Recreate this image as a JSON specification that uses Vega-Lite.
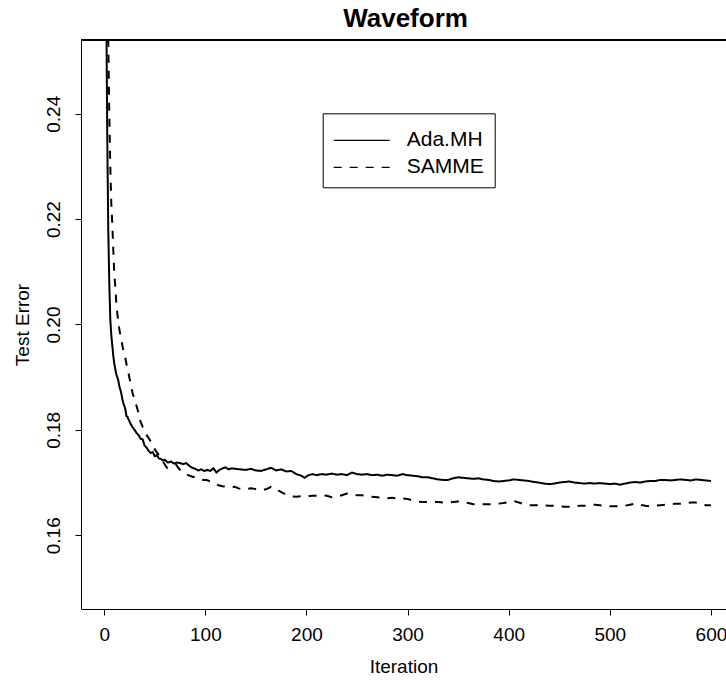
{
"$schema": "https://vega.github.io/schema/vega-lite/v6.json",
"width": 645, "height": 569,
"autosize": {"type": "none"},
"padding": {"left": 81, "top": 40, "right": 0, "bottom": 72},
"background": "white",
"title": {"text": "Waveform", "font": "Liberation Sans", "fontSize": 26, "fontWeight": "bold", "color": "black", "anchor": "middle", "offset": 8, "dx": 2},
"config": {"view": {"stroke": null}},
"data": {"values": [
{"it":1,"err":0.300,"method":"Ada.MH"},{"it":2,"err":0.262,"method":"Ada.MH"},{"it":3,"err":0.236,"method":"Ada.MH"},{"it":4,"err":0.218,"method":"Ada.MH"},{"it":5,"err":0.208,"method":"Ada.MH"},{"it":6,"err":0.201,"method":"Ada.MH"},{"it":7,"err":0.198,"method":"Ada.MH"},{"it":8,"err":0.196,"method":"Ada.MH"},{"it":9,"err":0.194,"method":"Ada.MH"},{"it":10,"err":0.1925,"method":"Ada.MH"},{"it":11,"err":0.1915,"method":"Ada.MH"},{"it":12,"err":0.1905,"method":"Ada.MH"},{"it":13,"err":0.19,"method":"Ada.MH"},{"it":14,"err":0.1893,"method":"Ada.MH"},{"it":15,"err":0.1882,"method":"Ada.MH"},{"it":16,"err":0.1876,"method":"Ada.MH"},{"it":17,"err":0.1868,"method":"Ada.MH"},{"it":18,"err":0.1858,"method":"Ada.MH"},{"it":19,"err":0.185,"method":"Ada.MH"},{"it":20,"err":0.1845,"method":"Ada.MH"},{"it":21,"err":0.1838,"method":"Ada.MH"},{"it":22,"err":0.1826,"method":"Ada.MH"},{"it":23,"err":0.1825,"method":"Ada.MH"},{"it":24,"err":0.182,"method":"Ada.MH"},{"it":26,"err":0.1812,"method":"Ada.MH"},{"it":28,"err":0.1805,"method":"Ada.MH"},{"it":30,"err":0.18,"method":"Ada.MH"},{"it":32,"err":0.1794,"method":"Ada.MH"},{"it":34,"err":0.179,"method":"Ada.MH"},{"it":36,"err":0.1783,"method":"Ada.MH"},{"it":38,"err":0.1782,"method":"Ada.MH"},{"it":40,"err":0.177,"method":"Ada.MH"},{"it":42,"err":0.1766,"method":"Ada.MH"},{"it":44,"err":0.176,"method":"Ada.MH"},{"it":46,"err":0.1756,"method":"Ada.MH"},{"it":48,"err":0.1758,"method":"Ada.MH"},{"it":50,"err":0.175,"method":"Ada.MH"},{"it":52,"err":0.1752,"method":"Ada.MH"},{"it":54,"err":0.1746,"method":"Ada.MH"},{"it":56,"err":0.1745,"method":"Ada.MH"},{"it":58,"err":0.1742,"method":"Ada.MH"},{"it":60,"err":0.1743,"method":"Ada.MH"},{"it":63,"err":0.1738,"method":"Ada.MH"},{"it":66,"err":0.174,"method":"Ada.MH"},{"it":69,"err":0.1736,"method":"Ada.MH"},{"it":72,"err":0.1738,"method":"Ada.MH"},{"it":75,"err":0.1737,"method":"Ada.MH"},{"it":78,"err":0.1735,"method":"Ada.MH"},{"it":81,"err":0.1737,"method":"Ada.MH"},{"it":84,"err":0.1732,"method":"Ada.MH"},{"it":87,"err":0.1728,"method":"Ada.MH"},{"it":90,"err":0.1726,"method":"Ada.MH"},{"it":93,"err":0.1723,"method":"Ada.MH"},{"it":96,"err":0.1725,"method":"Ada.MH"},{"it":99,"err":0.1722,"method":"Ada.MH"},{"it":102,"err":0.1724,"method":"Ada.MH"},{"it":105,"err":0.1722,"method":"Ada.MH"},{"it":108,"err":0.1727,"method":"Ada.MH"},{"it":111,"err":0.1719,"method":"Ada.MH"},{"it":114,"err":0.1724,"method":"Ada.MH"},{"it":117,"err":0.1727,"method":"Ada.MH"},{"it":120,"err":0.1729,"method":"Ada.MH"},{"it":123,"err":0.1725,"method":"Ada.MH"},{"it":126,"err":0.1727,"method":"Ada.MH"},{"it":130,"err":0.1726,"method":"Ada.MH"},{"it":135,"err":0.1725,"method":"Ada.MH"},{"it":140,"err":0.1724,"method":"Ada.MH"},{"it":145,"err":0.1726,"method":"Ada.MH"},{"it":150,"err":0.1723,"method":"Ada.MH"},{"it":155,"err":0.1722,"method":"Ada.MH"},{"it":160,"err":0.1725,"method":"Ada.MH"},{"it":165,"err":0.1728,"method":"Ada.MH"},{"it":170,"err":0.1723,"method":"Ada.MH"},{"it":175,"err":0.1725,"method":"Ada.MH"},{"it":180,"err":0.1721,"method":"Ada.MH"},{"it":185,"err":0.1722,"method":"Ada.MH"},{"it":190,"err":0.1716,"method":"Ada.MH"},{"it":195,"err":0.1713,"method":"Ada.MH"},{"it":198,"err":0.1709,"method":"Ada.MH"},{"it":202,"err":0.1714,"method":"Ada.MH"},{"it":206,"err":0.1716,"method":"Ada.MH"},{"it":210,"err":0.1714,"method":"Ada.MH"},{"it":215,"err":0.1716,"method":"Ada.MH"},{"it":220,"err":0.1715,"method":"Ada.MH"},{"it":225,"err":0.1717,"method":"Ada.MH"},{"it":230,"err":0.1715,"method":"Ada.MH"},{"it":235,"err":0.1716,"method":"Ada.MH"},{"it":240,"err":0.1714,"method":"Ada.MH"},{"it":245,"err":0.1719,"method":"Ada.MH"},{"it":250,"err":0.1716,"method":"Ada.MH"},{"it":255,"err":0.1715,"method":"Ada.MH"},{"it":260,"err":0.1716,"method":"Ada.MH"},{"it":265,"err":0.1714,"method":"Ada.MH"},{"it":270,"err":0.1715,"method":"Ada.MH"},{"it":275,"err":0.1713,"method":"Ada.MH"},{"it":280,"err":0.1715,"method":"Ada.MH"},{"it":285,"err":0.1714,"method":"Ada.MH"},{"it":290,"err":0.1713,"method":"Ada.MH"},{"it":295,"err":0.1716,"method":"Ada.MH"},{"it":300,"err":0.1714,"method":"Ada.MH"},{"it":305,"err":0.1713,"method":"Ada.MH"},{"it":310,"err":0.1712,"method":"Ada.MH"},{"it":315,"err":0.171,"method":"Ada.MH"},{"it":320,"err":0.171,"method":"Ada.MH"},{"it":325,"err":0.1708,"method":"Ada.MH"},{"it":330,"err":0.1706,"method":"Ada.MH"},{"it":335,"err":0.1705,"method":"Ada.MH"},{"it":340,"err":0.1705,"method":"Ada.MH"},{"it":345,"err":0.1708,"method":"Ada.MH"},{"it":350,"err":0.171,"method":"Ada.MH"},{"it":355,"err":0.1709,"method":"Ada.MH"},{"it":360,"err":0.1708,"method":"Ada.MH"},{"it":365,"err":0.1707,"method":"Ada.MH"},{"it":370,"err":0.1708,"method":"Ada.MH"},{"it":375,"err":0.1706,"method":"Ada.MH"},{"it":380,"err":0.1705,"method":"Ada.MH"},{"it":385,"err":0.1703,"method":"Ada.MH"},{"it":390,"err":0.1702,"method":"Ada.MH"},{"it":395,"err":0.1703,"method":"Ada.MH"},{"it":400,"err":0.1704,"method":"Ada.MH"},{"it":405,"err":0.1706,"method":"Ada.MH"},{"it":410,"err":0.1705,"method":"Ada.MH"},{"it":415,"err":0.1704,"method":"Ada.MH"},{"it":420,"err":0.1703,"method":"Ada.MH"},{"it":425,"err":0.1701,"method":"Ada.MH"},{"it":430,"err":0.17,"method":"Ada.MH"},{"it":435,"err":0.1698,"method":"Ada.MH"},{"it":440,"err":0.1697,"method":"Ada.MH"},{"it":445,"err":0.1698,"method":"Ada.MH"},{"it":450,"err":0.17,"method":"Ada.MH"},{"it":455,"err":0.1701,"method":"Ada.MH"},{"it":460,"err":0.1702,"method":"Ada.MH"},{"it":465,"err":0.17,"method":"Ada.MH"},{"it":470,"err":0.1699,"method":"Ada.MH"},{"it":475,"err":0.1698,"method":"Ada.MH"},{"it":480,"err":0.1699,"method":"Ada.MH"},{"it":485,"err":0.1698,"method":"Ada.MH"},{"it":490,"err":0.1699,"method":"Ada.MH"},{"it":495,"err":0.1698,"method":"Ada.MH"},{"it":500,"err":0.1697,"method":"Ada.MH"},{"it":505,"err":0.1698,"method":"Ada.MH"},{"it":510,"err":0.1696,"method":"Ada.MH"},{"it":515,"err":0.1698,"method":"Ada.MH"},{"it":520,"err":0.17,"method":"Ada.MH"},{"it":525,"err":0.1701,"method":"Ada.MH"},{"it":530,"err":0.17,"method":"Ada.MH"},{"it":535,"err":0.1702,"method":"Ada.MH"},{"it":540,"err":0.1703,"method":"Ada.MH"},{"it":545,"err":0.1703,"method":"Ada.MH"},{"it":550,"err":0.1705,"method":"Ada.MH"},{"it":555,"err":0.1705,"method":"Ada.MH"},{"it":560,"err":0.1704,"method":"Ada.MH"},{"it":565,"err":0.1705,"method":"Ada.MH"},{"it":570,"err":0.1706,"method":"Ada.MH"},{"it":575,"err":0.1705,"method":"Ada.MH"},{"it":580,"err":0.1704,"method":"Ada.MH"},{"it":585,"err":0.1706,"method":"Ada.MH"},{"it":590,"err":0.1705,"method":"Ada.MH"},{"it":595,"err":0.1704,"method":"Ada.MH"},{"it":600,"err":0.1703,"method":"Ada.MH"},
{"it":1,"err":0.40,"method":"SAMME"},{"it":2,"err":0.33,"method":"SAMME"},{"it":3,"err":0.285,"method":"SAMME"},{"it":4,"err":0.254,"method":"SAMME"},{"it":5,"err":0.24,"method":"SAMME"},{"it":6,"err":0.23,"method":"SAMME"},{"it":7,"err":0.223,"method":"SAMME"},{"it":8,"err":0.219,"method":"SAMME"},{"it":9,"err":0.214,"method":"SAMME"},{"it":10,"err":0.2095,"method":"SAMME"},{"it":11,"err":0.207,"method":"SAMME"},{"it":12,"err":0.204,"method":"SAMME"},{"it":13,"err":0.202,"method":"SAMME"},{"it":14,"err":0.2005,"method":"SAMME"},{"it":15,"err":0.199,"method":"SAMME"},{"it":16,"err":0.198,"method":"SAMME"},{"it":17,"err":0.197,"method":"SAMME"},{"it":18,"err":0.196,"method":"SAMME"},{"it":19,"err":0.195,"method":"SAMME"},{"it":20,"err":0.1945,"method":"SAMME"},{"it":21,"err":0.1935,"method":"SAMME"},{"it":22,"err":0.1925,"method":"SAMME"},{"it":23,"err":0.1915,"method":"SAMME"},{"it":24,"err":0.1908,"method":"SAMME"},{"it":25,"err":0.1898,"method":"SAMME"},{"it":26,"err":0.189,"method":"SAMME"},{"it":27,"err":0.188,"method":"SAMME"},{"it":28,"err":0.187,"method":"SAMME"},{"it":30,"err":0.1858,"method":"SAMME"},{"it":32,"err":0.1845,"method":"SAMME"},{"it":34,"err":0.1832,"method":"SAMME"},{"it":36,"err":0.1815,"method":"SAMME"},{"it":38,"err":0.1806,"method":"SAMME"},{"it":40,"err":0.1798,"method":"SAMME"},{"it":42,"err":0.179,"method":"SAMME"},{"it":44,"err":0.1784,"method":"SAMME"},{"it":47,"err":0.1775,"method":"SAMME"},{"it":50,"err":0.1763,"method":"SAMME"},{"it":53,"err":0.1755,"method":"SAMME"},{"it":56,"err":0.1746,"method":"SAMME"},{"it":59,"err":0.1737,"method":"SAMME"},{"it":62,"err":0.1728,"method":"SAMME"},{"it":65,"err":0.173,"method":"SAMME"},{"it":68,"err":0.1733,"method":"SAMME"},{"it":71,"err":0.1734,"method":"SAMME"},{"it":74,"err":0.1726,"method":"SAMME"},{"it":77,"err":0.1721,"method":"SAMME"},{"it":80,"err":0.1716,"method":"SAMME"},{"it":83,"err":0.1714,"method":"SAMME"},{"it":86,"err":0.1712,"method":"SAMME"},{"it":89,"err":0.171,"method":"SAMME"},{"it":92,"err":0.1707,"method":"SAMME"},{"it":95,"err":0.1707,"method":"SAMME"},{"it":98,"err":0.1705,"method":"SAMME"},{"it":101,"err":0.1705,"method":"SAMME"},{"it":105,"err":0.1702,"method":"SAMME"},{"it":109,"err":0.1698,"method":"SAMME"},{"it":113,"err":0.1695,"method":"SAMME"},{"it":117,"err":0.1693,"method":"SAMME"},{"it":121,"err":0.1692,"method":"SAMME"},{"it":125,"err":0.1691,"method":"SAMME"},{"it":129,"err":0.1692,"method":"SAMME"},{"it":133,"err":0.1689,"method":"SAMME"},{"it":137,"err":0.1687,"method":"SAMME"},{"it":141,"err":0.1688,"method":"SAMME"},{"it":145,"err":0.1689,"method":"SAMME"},{"it":149,"err":0.1688,"method":"SAMME"},{"it":153,"err":0.1686,"method":"SAMME"},{"it":157,"err":0.1686,"method":"SAMME"},{"it":161,"err":0.1688,"method":"SAMME"},{"it":165,"err":0.1692,"method":"SAMME"},{"it":169,"err":0.1691,"method":"SAMME"},{"it":173,"err":0.1684,"method":"SAMME"},{"it":177,"err":0.168,"method":"SAMME"},{"it":181,"err":0.1676,"method":"SAMME"},{"it":185,"err":0.1674,"method":"SAMME"},{"it":190,"err":0.1673,"method":"SAMME"},{"it":195,"err":0.1674,"method":"SAMME"},{"it":200,"err":0.1673,"method":"SAMME"},{"it":205,"err":0.1675,"method":"SAMME"},{"it":210,"err":0.1675,"method":"SAMME"},{"it":215,"err":0.1676,"method":"SAMME"},{"it":220,"err":0.1675,"method":"SAMME"},{"it":225,"err":0.1672,"method":"SAMME"},{"it":230,"err":0.1673,"method":"SAMME"},{"it":235,"err":0.1676,"method":"SAMME"},{"it":240,"err":0.1679,"method":"SAMME"},{"it":245,"err":0.1677,"method":"SAMME"},{"it":250,"err":0.1676,"method":"SAMME"},{"it":255,"err":0.1676,"method":"SAMME"},{"it":260,"err":0.1674,"method":"SAMME"},{"it":265,"err":0.1673,"method":"SAMME"},{"it":270,"err":0.1672,"method":"SAMME"},{"it":275,"err":0.1671,"method":"SAMME"},{"it":280,"err":0.167,"method":"SAMME"},{"it":285,"err":0.1671,"method":"SAMME"},{"it":290,"err":0.167,"method":"SAMME"},{"it":295,"err":0.167,"method":"SAMME"},{"it":300,"err":0.1669,"method":"SAMME"},{"it":305,"err":0.1666,"method":"SAMME"},{"it":310,"err":0.1664,"method":"SAMME"},{"it":315,"err":0.1663,"method":"SAMME"},{"it":320,"err":0.1663,"method":"SAMME"},{"it":325,"err":0.1663,"method":"SAMME"},{"it":330,"err":0.1663,"method":"SAMME"},{"it":335,"err":0.1662,"method":"SAMME"},{"it":340,"err":0.1662,"method":"SAMME"},{"it":345,"err":0.1663,"method":"SAMME"},{"it":350,"err":0.1664,"method":"SAMME"},{"it":355,"err":0.1663,"method":"SAMME"},{"it":360,"err":0.1661,"method":"SAMME"},{"it":365,"err":0.1659,"method":"SAMME"},{"it":370,"err":0.1659,"method":"SAMME"},{"it":375,"err":0.1659,"method":"SAMME"},{"it":380,"err":0.1659,"method":"SAMME"},{"it":385,"err":0.1659,"method":"SAMME"},{"it":390,"err":0.166,"method":"SAMME"},{"it":395,"err":0.1661,"method":"SAMME"},{"it":400,"err":0.1663,"method":"SAMME"},{"it":405,"err":0.1665,"method":"SAMME"},{"it":410,"err":0.1662,"method":"SAMME"},{"it":415,"err":0.1659,"method":"SAMME"},{"it":420,"err":0.1657,"method":"SAMME"},{"it":425,"err":0.1657,"method":"SAMME"},{"it":430,"err":0.1657,"method":"SAMME"},{"it":435,"err":0.1657,"method":"SAMME"},{"it":440,"err":0.1656,"method":"SAMME"},{"it":445,"err":0.1656,"method":"SAMME"},{"it":450,"err":0.1655,"method":"SAMME"},{"it":455,"err":0.1654,"method":"SAMME"},{"it":460,"err":0.1654,"method":"SAMME"},{"it":465,"err":0.1655,"method":"SAMME"},{"it":470,"err":0.1656,"method":"SAMME"},{"it":475,"err":0.1656,"method":"SAMME"},{"it":480,"err":0.1657,"method":"SAMME"},{"it":485,"err":0.1658,"method":"SAMME"},{"it":490,"err":0.1657,"method":"SAMME"},{"it":495,"err":0.1656,"method":"SAMME"},{"it":500,"err":0.1655,"method":"SAMME"},{"it":505,"err":0.1655,"method":"SAMME"},{"it":510,"err":0.1655,"method":"SAMME"},{"it":515,"err":0.1656,"method":"SAMME"},{"it":520,"err":0.1658,"method":"SAMME"},{"it":525,"err":0.166,"method":"SAMME"},{"it":530,"err":0.1658,"method":"SAMME"},{"it":535,"err":0.1656,"method":"SAMME"},{"it":540,"err":0.1655,"method":"SAMME"},{"it":545,"err":0.1656,"method":"SAMME"},{"it":550,"err":0.1657,"method":"SAMME"},{"it":555,"err":0.1658,"method":"SAMME"},{"it":560,"err":0.1659,"method":"SAMME"},{"it":565,"err":0.166,"method":"SAMME"},{"it":570,"err":0.166,"method":"SAMME"},{"it":575,"err":0.1661,"method":"SAMME"},{"it":580,"err":0.1662,"method":"SAMME"},{"it":585,"err":0.1662,"method":"SAMME"},{"it":590,"err":0.1659,"method":"SAMME"},{"it":595,"err":0.1657,"method":"SAMME"},{"it":600,"err":0.1657,"method":"SAMME"}
]},
"layer": [
{
"mark": {"type": "line", "strokeWidth": 2, "color": "black", "clip": true, "interpolate": "linear"},
"encoding": {
"x": {"field": "it", "type": "quantitative", "scale": {"domain": [-22.96, 614.9], "nice": false, "zero": false},
 "axis": {"values": [0,100,200,300,400,500,600], "format": "d", "title": "Iteration", "grid": false, "domainColor": "black", "domainWidth": 1, "tickColor": "black", "tickWidth": 1, "tickSize": 6, "labelFont": "Liberation Sans", "labelFontSize": 19, "labelColor": "black", "labelPadding": 10.5, "labelBaseline": "top", "labelFlush": false, "labelOverlap": false, "titleFont": "Liberation Sans", "titleFontSize": 19, "titleFontWeight": "normal", "titleColor": "black", "titlePadding": 13}},
"y": {"field": "err", "type": "quantitative", "scale": {"domain": [0.146, 0.254], "nice": false, "zero": false},
 "axis": {"values": [0.16,0.18,0.2,0.22,0.24], "format": ".2f", "title": "Test Error", "grid": false, "domainColor": "black", "domainWidth": 1, "tickColor": "black", "tickWidth": 1, "tickSize": 6, "labelFont": "Liberation Sans", "labelFontSize": 19, "labelColor": "black", "labelAngle": 270, "labelAlign": "center", "labelBaseline": "alphabetic", "labelPadding": 15.5, "labelFlush": false, "labelOverlap": false, "titleFont": "Liberation Sans", "titleFontSize": 19, "titleFontWeight": "normal", "titleColor": "black", "titlePadding": 12}},
"strokeDash": {"field": "method", "type": "nominal", "scale": {"domain": ["Ada.MH", "SAMME"], "range": [[1,0],[8,8]]},
 "legend": {"orient": "none", "legendX": 241.7, "legendY": 73.3, "title": null, "fillColor": "white", "strokeColor": "black", "padding": 10, "symbolType": "M-1,0H2.5", "symbolSize": 1024, "symbolStrokeWidth": 1.3, "symbolStrokeColor": "black", "labelFont": "Liberation Sans", "labelFontSize": 21, "labelColor": "black", "labelOffset": 40, "rowPadding": -6.5,
  "encode": {"symbols": {"update": {"strokeDash": {"signal": "datum.value === 'SAMME' ? [5.7, 5.7] : [1, 0]"}}}}}}
}
},
{
"mark": {"type": "rule", "color": "black", "strokeWidth": 1},
"encoding": {"y": {"datum": 0.254}}
}
]
}
